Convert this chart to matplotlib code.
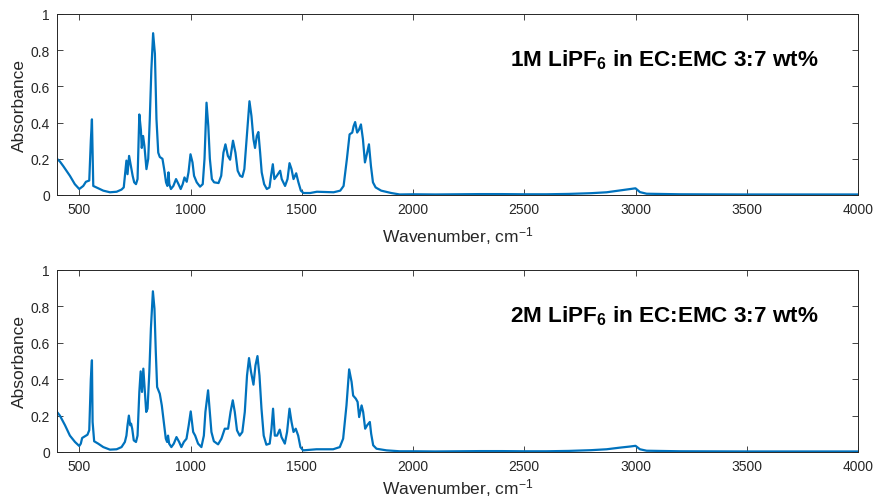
import matplotlib
matplotlib.use("Agg")
import matplotlib.pyplot as plt

plt.rcParams['font.family'] = ['Liberation Sans', 'DejaVu Sans']
plt.rcParams['mathtext.fontset'] = 'custom'
plt.rcParams['mathtext.rm'] = 'Liberation Sans'
plt.rcParams['mathtext.bf'] = 'Liberation Sans:bold'
plt.rcParams['mathtext.it'] = 'Liberation Sans:italic'

# ---- data ----
wn_top = [400, 413, 428, 458, 480, 500, 518, 530, 545, 552, 557, 563, 585, 608, 638, 668, 690, 700,
          710, 712, 717, 724, 732, 740, 747, 755, 762, 770, 777, 781, 787, 793, 802, 810, 817,
          824, 832, 840, 847, 855, 862, 874, 882, 890, 896, 901, 905, 912, 923, 935, 946, 956,
          965, 973, 983, 991, 1000, 1009, 1016, 1028, 1043, 1055, 1063, 1072, 1080, 1087, 1096,
          1106, 1126, 1138, 1148, 1157, 1168, 1178, 1191, 1202, 1212, 1223, 1233, 1242, 1253,
          1265, 1274, 1283, 1290, 1298, 1305, 1313, 1320, 1331, 1343, 1355, 1362, 1370, 1377,
          1388, 1403, 1410, 1425, 1436, 1445, 1454, 1463, 1475, 1485, 1496, 1508, 1538, 1568,
          1643, 1673, 1688, 1703, 1715, 1727, 1733, 1740, 1749, 1757, 1766, 1775, 1784, 1794,
          1802, 1811, 1820, 1832, 1857, 1902, 1940, 2000, 2100, 2200, 2300, 2400, 2500, 2600,
          2700, 2800, 2870, 2930, 2975, 3000, 3020, 3050, 3200, 3500, 4000]
abs_top = [0.20, 0.185, 0.16, 0.106, 0.06, 0.033, 0.05, 0.073, 0.08, 0.30, 0.418, 0.05, 0.037,
           0.024, 0.015, 0.018, 0.03, 0.042, 0.17, 0.19, 0.115, 0.216, 0.16, 0.106, 0.07, 0.06,
           0.088, 0.445, 0.36, 0.26, 0.326, 0.27, 0.143, 0.20, 0.42, 0.69, 0.894, 0.78, 0.42,
           0.234, 0.21, 0.20, 0.14, 0.07, 0.05, 0.125, 0.06, 0.033, 0.05, 0.088, 0.06, 0.033,
           0.06, 0.097, 0.073, 0.125, 0.225, 0.18, 0.106, 0.07, 0.046, 0.06, 0.20, 0.51, 0.38,
           0.20, 0.088, 0.07, 0.066, 0.106, 0.234, 0.28, 0.216, 0.195, 0.30, 0.234, 0.134, 0.106,
           0.10, 0.143, 0.326, 0.518, 0.436, 0.308, 0.26, 0.326, 0.348, 0.234, 0.125, 0.06,
           0.033, 0.042, 0.106, 0.17, 0.088, 0.106, 0.134, 0.088, 0.05, 0.088, 0.176, 0.143,
           0.088, 0.12, 0.07, 0.024, 0.011, 0.011, 0.018, 0.015, 0.024, 0.05, 0.20, 0.335,
           0.345, 0.38, 0.403, 0.345, 0.36, 0.39, 0.308, 0.18, 0.234, 0.28, 0.16, 0.07, 0.042,
           0.024, 0.011, 0.003, 0.004, 0.003, 0.004, 0.005, 0.005, 0.004, 0.004, 0.006, 0.010,
           0.015, 0.025, 0.032, 0.037, 0.016, 0.007, 0.004, 0.003, 0.003]

wn_bot = [400, 413, 436, 458, 481, 500, 507, 513, 525, 537, 545, 552, 557, 560, 567, 585, 608,
          638, 668, 690, 705, 712, 717, 723, 729, 733, 738, 745, 755, 762, 770, 776, 782, 788,
          794, 801, 807, 815, 822, 831, 838, 844, 850, 862, 871, 880, 889, 895, 899, 904, 914,
          925, 937, 949, 959, 970, 982, 992, 1001, 1012, 1021, 1034, 1049, 1060, 1067, 1079,
          1087, 1094, 1105, 1124, 1139, 1154, 1169, 1180, 1190, 1199, 1209, 1221, 1233, 1244,
          1254, 1263, 1272, 1283, 1292, 1301, 1310, 1319, 1329, 1341, 1356, 1364, 1371, 1379,
          1389, 1401, 1409, 1424, 1434, 1445, 1454, 1463, 1473, 1484, 1494, 1506, 1566, 1641,
          1671, 1686, 1701, 1713, 1724, 1731, 1743, 1751, 1758, 1769, 1776, 1785, 1794, 1806,
          1812, 1821, 1836, 1881, 1940, 2000, 2100, 2200, 2300, 2400, 2500, 2600, 2700, 2800,
          2870, 2930, 2975, 3000, 3020, 3050, 3200, 3500, 4000]
abs_bot = [0.22, 0.20, 0.147, 0.09, 0.055, 0.033, 0.046, 0.077, 0.086, 0.095, 0.12, 0.40, 0.504,
           0.165, 0.059, 0.046, 0.027, 0.013, 0.015, 0.027, 0.055, 0.09, 0.147, 0.20, 0.147,
           0.156, 0.128, 0.064, 0.055, 0.09, 0.33, 0.443, 0.33, 0.458, 0.348, 0.22, 0.238, 0.44,
           0.678, 0.883, 0.788, 0.55, 0.357, 0.32, 0.256, 0.165, 0.073, 0.055, 0.09, 0.046,
           0.027, 0.046, 0.082, 0.055, 0.027, 0.055, 0.073, 0.147, 0.223, 0.11, 0.09, 0.046,
           0.027, 0.09, 0.22, 0.339, 0.22, 0.11, 0.059, 0.042, 0.073, 0.128, 0.128, 0.22, 0.284,
           0.22, 0.119, 0.09, 0.11, 0.22, 0.42, 0.516, 0.44, 0.37, 0.476, 0.527, 0.42, 0.238,
           0.09, 0.04, 0.046, 0.128, 0.238, 0.09, 0.09, 0.123, 0.082, 0.046, 0.11, 0.238, 0.165,
           0.11, 0.128, 0.09, 0.027, 0.009, 0.015, 0.015, 0.027, 0.073, 0.256, 0.454, 0.385,
           0.31, 0.293, 0.275, 0.192, 0.256, 0.22, 0.128, 0.147, 0.165, 0.10, 0.037, 0.018,
           0.009, 0.004, 0.004, 0.003, 0.004, 0.005, 0.005, 0.004, 0.004, 0.006, 0.010, 0.015,
           0.024, 0.030, 0.034, 0.015, 0.007, 0.004, 0.003, 0.003]

labels = [r'1M LiPF$_{\mathbf{6}}$ in EC:EMC 3:7 wt%', r'2M LiPF$_{\mathbf{6}}$ in EC:EMC 3:7 wt%']
xticks = [500, 1000, 1500, 2000, 2500, 3000, 3500, 4000]
yticks = [0, 0.2, 0.4, 0.6, 0.8, 1]
ytick_labels = ['0', '0.2', '0.4', '0.6', '0.8', '1']

line_color = '#0072BD'
frame_color = '#262626'

fig = plt.figure(figsize=(8.76, 5.02), dpi=100)
ax1 = fig.add_axes([57/876, 1-196/502, 801/876, 181/502])
ax2 = fig.add_axes([57/876, 1-453/502, 801/876, 182/502])

for ax, wn, ab, lab, lpad in [(ax1, wn_top, abs_top, labels[0], 6),
                              (ax2, wn_bot, abs_bot, labels[1], 2)]:
    ax.plot(wn, ab, color=line_color, lw=1.6, solid_joinstyle='round')
    ax.set_xlim(400, 4000)
    ax.set_ylim(0, 1)
    ax.set_xticks(xticks)
    ax.set_yticks(yticks)
    ax.set_yticklabels(ytick_labels)
    ax.tick_params(direction='in', top=True, right=True, length=4, width=0.6,
                   colors=frame_color, labelsize=10, pad=5)
    for s in ax.spines.values():
        s.set_color(frame_color)
        s.set_linewidth(0.7)
    ax.set_xlabel('Wavenumber, cm$^{-1}$', fontsize=12.5, color=frame_color, labelpad=lpad)
    ax.set_ylabel('Absorbance', fontsize=12.5, color=frame_color, labelpad=3)
    ax.text(0.566, 0.75, lab, transform=ax.transAxes, fontsize=16.2, fontweight='bold',
            color='black', ha='left', va='center')

fig.savefig('out.png', dpi=100)
